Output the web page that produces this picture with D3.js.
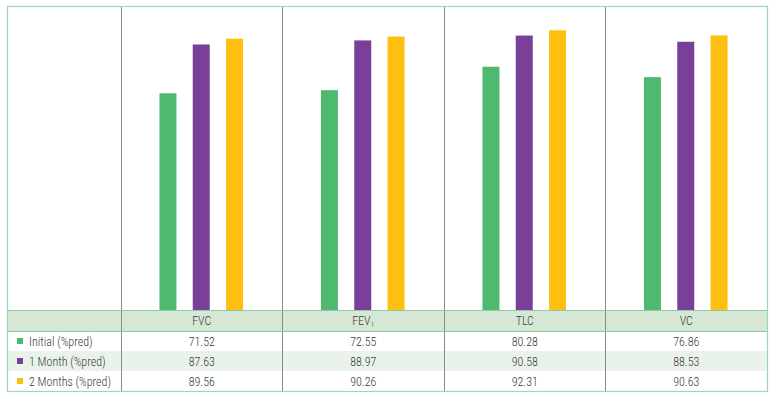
<!DOCTYPE html>
<html><head><meta charset="utf-8">
<script src="https://cdn.jsdelivr.net/npm/d3@7"></script>
<style>
html,body{margin:0;padding:0;background:#fff;}
svg{display:block;}
text{font-family:"Roboto Condensed","Liberation Sans Narrow","Liberation Sans",sans-serif;font-size:12px;font-weight:300;fill:#3a3a3a;}
</style></head>
<body><svg id="c" width="775" height="399"></svg>
<script>
const categories = ["FVC", "FEV1", "TLC", "VC"];
const seriesNames = ["Initial (%pred)", "1 Month (%pred)", "2 Months (%pred)"];
const initialVals = [71.52, 72.55, 80.28, 76.86];
const month1Vals = [87.63, 88.97, 90.58, 88.53];
const month2Vals = [89.56, 90.26, 92.31, 90.63];
const valueLabels = [
  ["71.52", "72.55", "80.28", "76.86"],
  ["87.63", "88.97", "90.58", "88.53"],
  ["89.56", "90.26", "92.31", "90.63"]
];
const colors = ["#4fba6f", "#7a3f98", "#fdc010"];
const series = [initialVals, month1Vals, month2Vals];

const svg = d3.select("#c");
const L = 7, R = 767, T = 6, B = 391;
const labelColRight = 121;
const headTop = 310, headBot = 331, rowH = 20;

const x = d3.scaleBand().domain(categories).range([labelColRight, R]).padding(0);
const y = d3.scaleLinear().domain([0, 100]).range([headTop, T + 1]);

// row fills
svg.append("rect").attr("x", L).attr("y", headTop).attr("width", R - L).attr("height", headBot - headTop).attr("fill", "#d6e7d6");
svg.append("rect").attr("x", L).attr("y", headBot + rowH).attr("width", R - L).attr("height", rowH).attr("fill", "#eaf3ea");

// bars
const barW = 17;
const step = 33.3;
series.forEach((vals, si) => {
  svg.append("g").selectAll("rect").data(vals).join("rect")
    .attr("x", (d, i) => x(categories[i]) + x.bandwidth() / 2 + (si - 1) * step - barW / 2 - 0.5)
    .attr("width", barW)
    .attr("y", d => y(d))
    .attr("height", d => y(0) - y(d))
    .attr("fill", colors[si]);
});

// vertical dividers
const divs = [labelColRight].concat(categories.slice(1).map(c => x(c)));
svg.append("g").selectAll("line").data(divs).join("line")
  .attr("x1", d => Math.floor(d) + 0.5).attr("x2", d => Math.floor(d) + 0.5)
  .attr("y1", T).attr("y2", B).attr("stroke", "#8a8a8a").attr("stroke-width", 1);

// header lines
[headTop, headBot].forEach(yy => {
  svg.append("line").attr("x1", L).attr("x2", R).attr("y1", yy + 0.5).attr("y2", yy + 0.5)
    .attr("stroke", "#8cc9a6").attr("stroke-width", 1);
});

// outer border
svg.append("rect").attr("x", L + 0.5).attr("y", T + 0.5).attr("width", R - L).attr("height", B - T)
  .attr("fill", "none").attr("stroke", "#9dd5bd").attr("stroke-width", 1.2);

// header labels
const hl = svg.append("g").selectAll("text").data(categories).join("text")
  .attr("x", d => x(d) + x.bandwidth() / 2).attr("y", (headTop + headBot) / 2 + 4.5)
  .attr("text-anchor", "middle");
hl.each(function(d) {
  const t = d3.select(this);
  if (d === "FEV1") {
    t.append("tspan").text("FEV");
    t.append("tspan").attr("font-size", "8px").attr("dy", 2).text("1");
  } else t.text(d);
});

// rows
seriesNames.forEach((name, si) => {
  const cy = headBot + rowH * si + rowH / 2;
  svg.append("rect").attr("x", 17).attr("y", cy - 3).attr("width", 6).attr("height", 6).attr("fill", colors[si]);
  svg.append("text").attr("x", 29).attr("y", cy + 4.5).text(name);
  svg.append("g").selectAll("text").data(valueLabels[si]).join("text")
    .attr("x", (d, i) => x(categories[i]) + x.bandwidth() / 2)
    .attr("y", cy + 4.5).attr("text-anchor", "middle").text(d => d);
});
</script></body></html>
